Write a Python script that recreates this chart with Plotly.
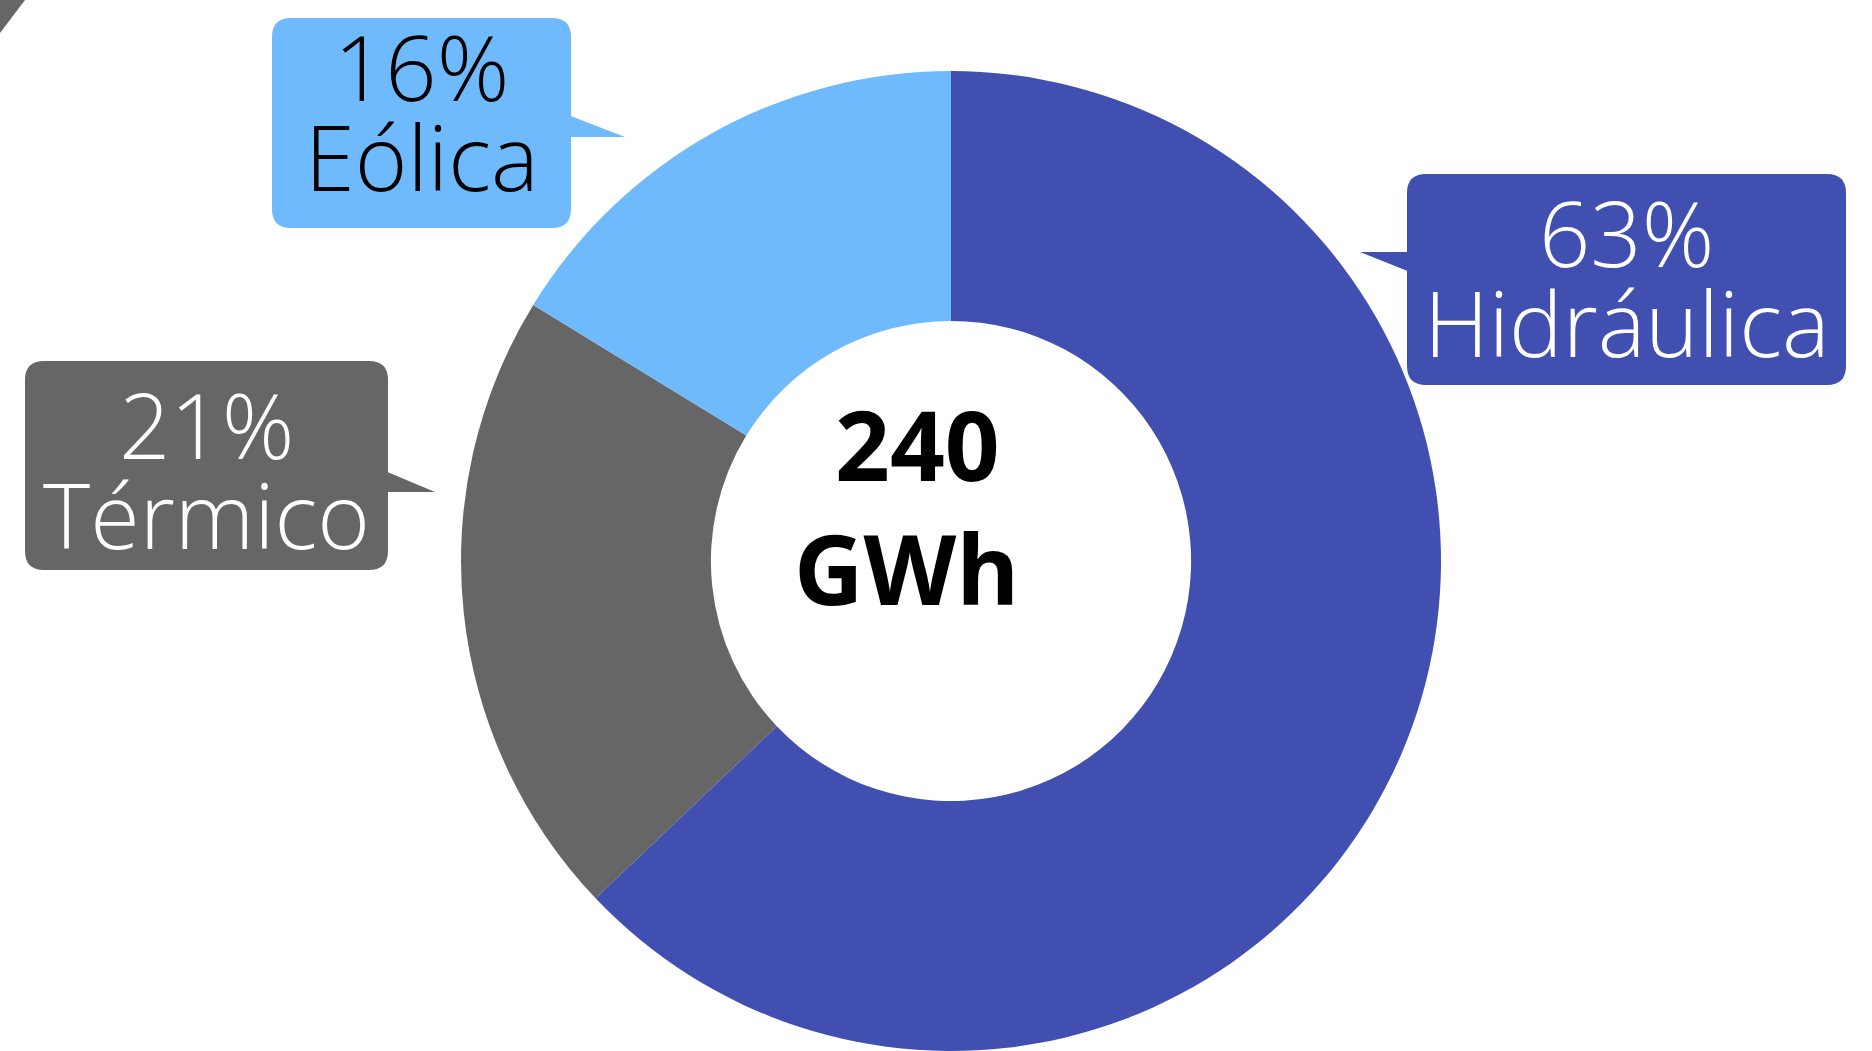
import plotly.graph_objects as go

# ---- data ----
labels = ["Hidráulica", "Térmico", "Eólica"]
values = [151, 50, 39]          # GWh
colors = ["#4150B0", "#666666", "#6FB9FD"]
text_colors = ["white", "white", "black"]
unit = "GWh"

W, H = 1872, 1051

def px(x):
    return x / W

def py(y):
    return 1 - y / H

total = sum(values)
pcts = [round(v / total * 100) for v in values]

fig = go.Figure()
R = 490
cx, cy = 951, 561
fig.add_trace(go.Pie(
    labels=labels, values=values, sort=False, direction="clockwise", rotation=0,
    hole=0.49, marker=dict(colors=colors, line=dict(width=0)),
    textinfo="none", hoverinfo="label+percent", showlegend=False,
    domain=dict(x=[px(cx - R), px(cx + R)], y=[max(0, py(cy + R)), py(cy - R)]),
))

def rounded_rect(x0, y0, x1, y1, r):
    return (f"M {px(x0 + r)} {py(y0)} L {px(x1 - r)} {py(y0)} "
            f"Q {px(x1)} {py(y0)} {px(x1)} {py(y0 + r)} "
            f"L {px(x1)} {py(y1 - r)} Q {px(x1)} {py(y1)} {px(x1 - r)} {py(y1)} "
            f"L {px(x0 + r)} {py(y1)} Q {px(x0)} {py(y1)} {px(x0)} {py(y1 - r)} "
            f"L {px(x0)} {py(y0 + r)} Q {px(x0)} {py(y0)} {px(x0 + r)} {py(y0)} Z")

def poly(pts):
    return "M " + " L ".join(f"{px(a)} {py(b)}" for a, b in pts) + " Z"

# callout layout: box (x0,y0,x1,y1), pointer triangle, baselines of the two lines
callouts = {
    "Hidráulica": dict(box=(1407, 174, 1846, 385), tri=[(1410, 252), (1360, 252), (1410, 272)], lines=(268, 358)),
    "Térmico": dict(box=(25, 361, 388, 570), tri=[(385, 471), (435, 492), (385, 492)], lines=(460, 550)),
    "Eólica": dict(box=(272, 18, 571, 228), tri=[(568, 115), (625, 137), (568, 137)], lines=(102, 192)),
}

shapes = []
annotations = []
FS = 90
for lab, col, tcol, p in zip(labels, colors, text_colors, pcts):
    c = callouts[lab]
    x0, y0, x1, y1 = c["box"]
    shapes.append(dict(type="path", xref="paper", yref="paper", path=rounded_rect(x0, y0, x1, y1, 19),
                       fillcolor=col, line=dict(width=0), layer="above"))
    shapes.append(dict(type="path", xref="paper", yref="paper", path=poly(c["tri"]),
                       fillcolor=col, line=dict(width=0), layer="above"))
    xc = (x0 + x1) / 2
    for txt, base in zip([f"{p}%", lab], c["lines"]):
        annotations.append(dict(x=px(xc), y=py(base - 36), xref="paper", yref="paper",
                                text=txt, showarrow=False, xanchor="center", yanchor="middle",
                                height=88, valign="middle",
                                font=dict(family="Open Sans", size=FS, color=tcol, weight=300)))

# small corner artefact
shapes.append(dict(type="path", xref="paper", yref="paper", path=poly([(0, 0), (25, 0), (0, 33)]),
                   fillcolor="#666666", line=dict(width=0)))

# centre total
for txt, xc, base in [(f"{total}", 917, 482), (unit, 906, 605)]:
    annotations.append(dict(x=px(xc), y=py(base - 38), xref="paper", yref="paper",
                            text=txt, showarrow=False, xanchor="center", yanchor="middle",
                            font=dict(family="Open Sans", size=96, color="black", weight=700)))

fig.update_layout(width=W, height=H, margin=dict(l=0, r=0, t=0, b=0),
                  paper_bgcolor="white", plot_bgcolor="white",
                  shapes=shapes, annotations=annotations)

fig.write_html("out.html", config={"displayModeBar": False},
               post_script="document.body.style.margin='0px';document.body.style.overflow='hidden';")
